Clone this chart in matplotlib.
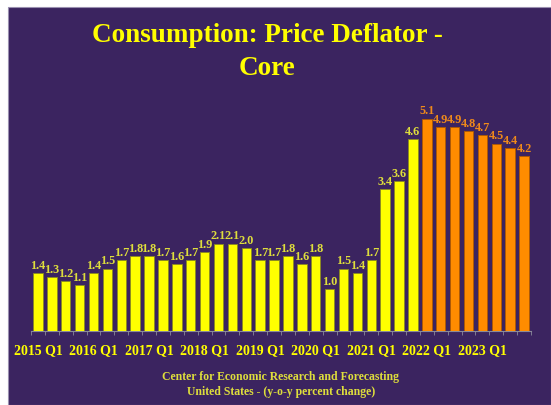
import matplotlib; matplotlib.use("Agg")
import matplotlib.pyplot as plt
import matplotlib.patches as mpatches
import numpy as np

C_BG, C_YEL, C_ORG = "#3B2460", "#FFFF00", "#FF8C00"
C_YTXT, C_OTXT = "#DEDE3C", "#F08A1A"
FONT = "Liberation Serif"

years = ["2015", "2016", "2017", "2018", "2019", "2020", "2021", "2022", "2023"]
quarters = [f"{y} Q{q}" for y in years for q in range(1, 5)]
values = [1.4, 1.3, 1.2, 1.1, 1.4, 1.5, 1.7, 1.8,
          1.8, 1.7, 1.6, 1.7, 1.9, 2.1, 2.1, 2.0,
          1.7, 1.7, 1.8, 1.6, 1.8, 1.0, 1.5, 1.4,
          1.7, 3.4, 3.6, 4.6, 5.1, 4.9, 4.9, 4.8,
          4.7, 4.5, 4.4, 4.2]
n_actual = 28  # first forecast quarter: 2022 Q1
tick_labels = [f"{y} Q1" for y in years]

W, H = 551, 406
fig = plt.figure(figsize=(W / 100, H / 100), dpi=100, facecolor="white")
fig.patches.append(mpatches.Rectangle((8 / W, 0), 1 - 8 / W, 1 - 8 / H,
                                      transform=fig.transFigure, facecolor=C_BG,
                                      edgecolor="#9A90B0", linewidth=0.8, zorder=-10))

ax = fig.add_axes([31 / W, 1 - 332 / H, 500 / W, 250 / H])
ax.set_facecolor("none")
x = np.arange(len(values))
colors = [C_YEL if i < n_actual else C_ORG for i in x]
edges = ["#8A8A20" if i < n_actual else "#B05A00" for i in x]
ax.bar(x, values, width=0.68, color=colors, edgecolor=edges, linewidth=0.6, zorder=3)
for i, v in enumerate(values):
    ax.text(i, v + 0.05, f"{v:.1f}", ha="center", va="bottom", fontsize=8.8,
            fontweight="bold", family=FONT,
            color=C_YTXT if i < n_actual else C_OTXT)

ax.set_xlim(-0.5, len(values) - 0.5)
ax.set_ylim(0, 6)
for s in ("top", "right", "left"):
    ax.spines[s].set_visible(False)
ax.spines["bottom"].set_color("#8A8A9A")
ax.set_yticks([])
ax.set_xticks(x[::4])
ax.set_xticklabels(tick_labels, fontsize=10, fontweight="bold", family=FONT, color=C_YEL)
ax.tick_params(axis="x", length=0, pad=9)
ax.set_xticks(np.arange(-0.5, len(values), 1), minor=True)
ax.tick_params(axis="x", which="minor", length=3, color="#8A8A9A")

fig.text(267 / W, 1 - 42 / H, "Consumption: Price Deflator -", ha="center", va="baseline",
         fontsize=19.5, fontweight="bold", family=FONT, color=C_YEL)
fig.text(267 / W, 1 - 75 / H, "Core", ha="center", va="baseline",
         fontsize=19.5, fontweight="bold", family=FONT, color=C_YEL)
fig.text(281 / W, 1 - 377 / H, "Center for Economic Research and Forecasting",
         ha="center", va="center", fontsize=8.5, fontweight="bold", family=FONT, color=C_YTXT)
fig.text(281 / W, 1 - 392 / H, "United States - (y-o-y percent change)",
         ha="center", va="center", fontsize=8.5, fontweight="bold", family=FONT, color=C_YTXT)

fig.savefig("out.png", dpi=100, facecolor="white")
